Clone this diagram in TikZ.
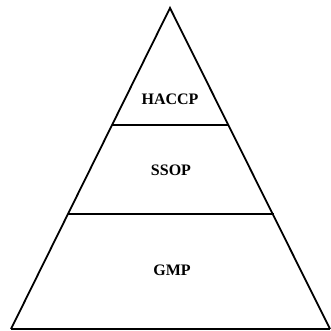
\documentclass[tikz,border=0pt]{standalone}
\usepackage{fontspec}
\setmainfont{Liberation Serif}
\begin{document}
\begin{tikzpicture}[x=1pt,y=-1pt,
  edge/.style={line width=1.8pt,line join=miter},
  lvl/.style={font=\bfseries\fontsize{16}{18}\selectfont}]
\useasboundingbox (0,0) rectangle (331,331);
\coordinate (apex) at (170,8);
\coordinate (bl) at (11,329);
\coordinate (br) at (330,329);
\draw[edge] (bl) -- (apex) -- (br);
\draw[edge] (bl) -- (br);
\draw[edge] (112,125) -- (228,125);
\draw[edge] (68,214) -- (274,214);
\node[lvl] (haccp) at (170,99) {HACCP};
\node[lvl] (ssop) at (171,170) {SSOP};
\node[lvl] (gmp) at (172,270) {GMP};
\end{tikzpicture}
\end{document}
